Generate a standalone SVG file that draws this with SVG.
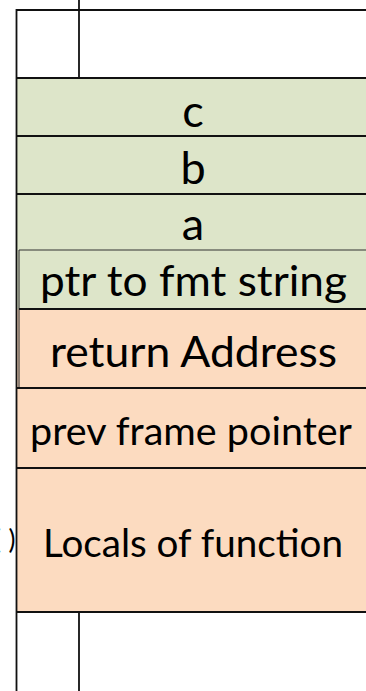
<svg xmlns="http://www.w3.org/2000/svg" width="366" height="691" viewBox="0 0 366 691">
  <style>
    .green { fill: #DDE5C9; }
    .orange { fill: #FCDBC0; }
    .rule { stroke: #111; stroke-width: 1.8; fill: none; }
    .thin { stroke: #333; stroke-width: 1.1; fill: none; }
    .label { font-family: Lato, "Open Sans", sans-serif; fill: #000; text-anchor: middle; }
  </style>
  <rect width="366" height="691" fill="#fff"/>

  <!-- stack slots, top (high address) to bottom -->
  <g id="slot-top">
    <rect x="17" y="10" width="360" height="68" fill="#fff"/>
  </g>
  <g id="slot-c">
    <rect class="green" x="17" y="78" width="360" height="58"/>
    <text class="label" x="193" y="127" font-size="45">c</text>
  </g>
  <g id="slot-b">
    <rect class="green" x="17" y="136" width="360" height="58"/>
    <text class="label" x="193" y="184" font-size="45">b</text>
  </g>
  <g id="slot-a">
    <rect class="green" x="17" y="194" width="360" height="56"/>
    <text class="label" x="193" y="240" font-size="45">a</text>
  </g>
  <g id="slot-fmt">
    <rect class="green" x="17" y="250" width="360" height="59"/>
    <text class="label" x="193.5" y="296" font-size="42" textLength="307" lengthAdjust="spacingAndGlyphs">ptr to fmt string</text>
  </g>
  <g id="slot-ret">
    <rect class="orange" x="17" y="309" width="360" height="79"/>
    <text class="label" x="193.5" y="367" font-size="42" textLength="287" lengthAdjust="spacingAndGlyphs">return Address</text>
  </g>
  <g id="slot-fp">
    <rect class="orange" x="17" y="388" width="360" height="80"/>
    <text class="label" x="191" y="445" font-size="38" textLength="322" lengthAdjust="spacingAndGlyphs">prev frame pointer</text>
  </g>
  <g id="slot-locals">
    <rect class="orange" x="17" y="468" width="360" height="144"/>
    <text class="label" x="193" y="557" font-size="38" textLength="300" lengthAdjust="spacingAndGlyphs">Locals of function</text>
  </g>
  <g id="slot-bottom">
    <rect x="17" y="612" width="360" height="79" fill="#fff"/>
  </g>

  <!-- caller label, cut off at the left margin -->
  <text y="549" font-family="Lato, 'Open Sans', sans-serif" font-size="26" fill="#000"><tspan x="-6">(</tspan><tspan x="8.5">)</tspan></text>

  <!-- frame rules -->
  <g id="rules">
    <line class="rule" x1="17" y1="10" x2="366" y2="10"/>
    <line class="rule" x1="16.5" y1="9" x2="16.5" y2="691"/>
    <line class="rule" x1="79" y1="0" x2="79" y2="78"/>
    <line class="rule" x1="79" y1="612" x2="79" y2="691"/>
    <line class="rule" x1="17" y1="78" x2="366" y2="78"/>
    <line class="rule" x1="17" y1="136" x2="366" y2="136"/>
    <line class="rule" x1="17" y1="194" x2="366" y2="194"/>
    <line class="thin" x1="19" y1="250" x2="366" y2="250"/>
    <line class="thin" x1="19" y1="250" x2="19" y2="388"/>
    <line class="rule" x1="19" y1="309" x2="366" y2="309"/>
    <line class="rule" x1="17" y1="388" x2="366" y2="388"/>
    <line class="rule" x1="17" y1="468" x2="366" y2="468"/>
    <line class="rule" x1="17" y1="612" x2="366" y2="612"/>
  </g>
</svg>
